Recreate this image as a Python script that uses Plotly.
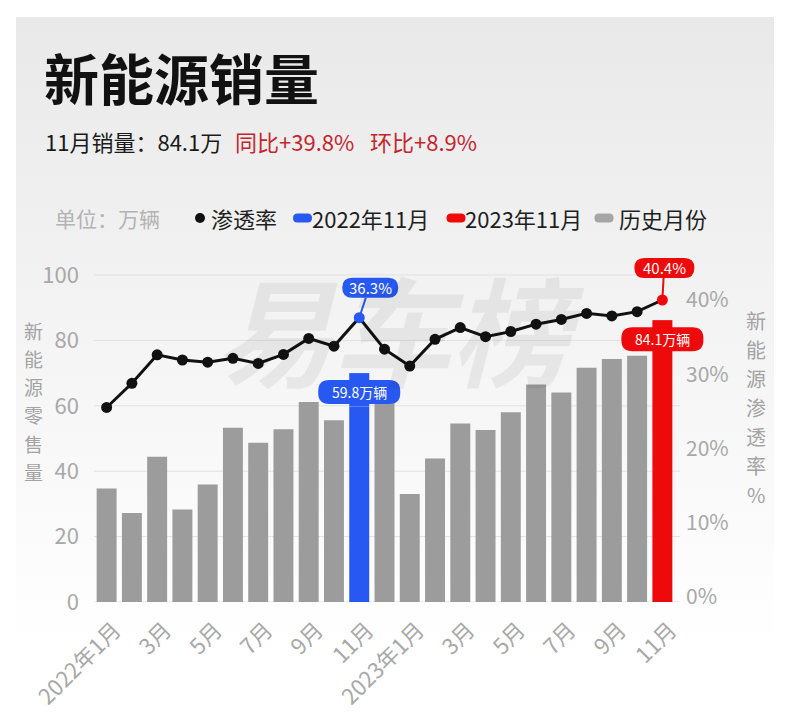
import plotly.graph_objects as go

# ---------------- data ----------------
months = ["2022年1月", "2022年2月", "2022年3月", "2022年4月", "2022年5月", "2022年6月",
          "2022年7月", "2022年8月", "2022年9月", "2022年10月", "2022年11月", "2022年12月",
          "2023年1月", "2023年2月", "2023年3月", "2023年4月", "2023年5月", "2023年6月",
          "2023年7月", "2023年8月", "2023年9月", "2023年10月", "2023年11月"]
sales = [34.7, 27.2, 44.4, 28.3, 35.9, 53.3, 48.7, 52.8, 61.2, 55.6, 59.8, 64.0,
         33.0, 43.9, 54.6, 52.6, 58.0, 66.5, 64.1, 71.6, 74.3, 75.3, 84.1]
penetration = [15.5, 21.1, 27.7, 26.5, 26.0, 26.9, 25.7, 27.8, 31.5, 29.7, 36.3, 29.0,
               25.1, 31.3, 34.0, 31.9, 33.1, 34.8, 35.9, 37.3, 36.7, 37.7, 40.4]
tick_vals = months[::2]
tick_text = ["2022年1月", "3月", "5月", "7月", "9月", "11月",
             "2023年1月", "3月", "5月", "7月", "9月", "11月"]
left_ticks = [0, 20, 40, 60, 80, 100]
right_ticks = [0, 10, 20, 30, 40]
right_tick_text = ["0%", "10%", "20%", "30%", "40%"]
highlight_idx = [10, 22]
highlight_names = ["2022年11月", "2023年11月"]
pin_tops = [70.0, 86.2]          # top of the highlighted "pin" bars
sales_labels = ["59.8万辆", "84.1万辆"]
pen_labels = ["36.3%", "40.4%"]

# ---------------- style ----------------
FONT = "Noto Sans CJK SC"
GRAY_BAR = "#9c9c9c"
BLUE = "#2858f2"
RED = "#ee0a0a"
HL_COLORS = [BLUE, RED]
TICK_GRAY = "#a8a8a8"

W, H = 800, 721
L, R, T, B = 94, 88, 245, 119
PW, PH = W - L - R, H - T - B


def px(X):
    return (X - L) / PW


def py(Y):
    return (H - B - Y) / PH


def rounded_path(cx, cy, w, h, r):
    x0, x1 = cx - w / 2, cx + w / 2
    y0, y1 = cy - h / 2, cy + h / 2
    return (f"M{x0 + r},{y0} L{x1 - r},{y0} Q{x1},{y0} {x1},{y0 + r} "
            f"L{x1},{y1 - r} Q{x1},{y1} {x1 - r},{y1} L{x0 + r},{y1} "
            f"Q{x0},{y1} {x0},{y1 - r} L{x0},{y0 + r} Q{x0},{y0} {x0 + r},{y0} Z")


bar_colors = [GRAY_BAR] * len(months)
dot_colors = ["#111111"] * len(months)
for i, c in zip(highlight_idx, HL_COLORS):
    bar_colors[i] = c
    dot_colors[i] = c

fig = go.Figure()
fig.add_trace(go.Bar(x=months, y=sales, marker=dict(color=bar_colors, line=dict(width=0)),
                     yaxis="y", showlegend=False, hoverinfo="x+y"))
fig.add_trace(go.Scatter(x=months, y=penetration, yaxis="y3", mode="lines+markers",
                         line=dict(color="#111111", width=3),
                         marker=dict(size=11, color=dot_colors),
                         showlegend=False))
# invisible carrier so that the printed right-hand % axis is drawn
fig.add_trace(go.Scatter(x=[months[0]] * len(right_ticks), y=right_ticks, yaxis="y2",
                         mode="markers", marker=dict(opacity=0), hoverinfo="skip",
                         showlegend=False))

shapes = []
annotations = []

# background card with vertical gradient
top, bottom = 17, 721
step = 8
y = top
while y < bottom:
    t = min(1.0, (y - top) / (640 - top))
    v = int(round(233 + (255 - 233) * t))
    shapes.append(dict(type="rect", xref="paper", yref="paper", layer="below",
                       x0=px(16), x1=px(774), y0=py(min(y + step, bottom)), y1=py(y),
                       fillcolor=f"rgb({v},{v},{v})", line=dict(width=0)))
    y += step

# horizontal grid lines at the left-axis ticks
for v in left_ticks:
    shapes.append(dict(type="line", xref="paper", yref="y", layer="below",
                       x0=0, x1=px(680), y0=v, y1=v, line=dict(color="#e1e1e1", width=1)))

# watermark
annotations.append(dict(xref="paper", yref="paper", x=px(400), y=py(326), text="<b>易车榜</b>",
                        showarrow=False, font=dict(family=FONT, size=118, color="rgba(0,0,0,0.06)",
                                                   style="italic"),
                        xanchor="center", yanchor="middle"))

# highlighted bars: stems, pills and labels
for j, i in enumerate(highlight_idx):
    c = HL_COLORS[j]
    shapes.append(dict(type="rect", xref="x", yref="y", xsizemode="pixel", xanchor=i,
                       x0=-10, x1=10, y0=sales[i], y1=pin_tops[j], fillcolor=c, line=dict(width=0)))
    shapes.append(dict(type="path", xref="x", yref="y", xsizemode="pixel", ysizemode="pixel",
                       xanchor=i, yanchor=pin_tops[j], path=rounded_path(0, -19, 82, 24, 11),
                       fillcolor=c, line=dict(width=0)))
    annotations.append(dict(x=i, y=pin_tops[j], xref="x", yref="y", yshift=-19, text=sales_labels[j],
                            showarrow=False, font=dict(family=FONT, size=14, color="white"),
                            xanchor="center", yanchor="middle"))

# penetration callouts
pen_offsets = [(11, 30, 56), (2, 32, 60)]
for j, i in enumerate(highlight_idx):
    c = HL_COLORS[j]
    dx, dy, w = pen_offsets[j]
    shapes.append(dict(type="line", xref="x", yref="y3", xsizemode="pixel", ysizemode="pixel",
                       xanchor=i, yanchor=penetration[i], x0=0, y0=0, x1=dx * 0.6, y1=dy - 10,
                       line=dict(color=c, width=2)))
    shapes.append(dict(type="path", xref="x", yref="y3", xsizemode="pixel", ysizemode="pixel",
                       xanchor=i, yanchor=penetration[i], path=rounded_path(dx, dy, w, 20, 10),
                       fillcolor=c, line=dict(width=0)))
    annotations.append(dict(x=i, y=penetration[i], xref="x", yref="y3", xshift=dx, yshift=dy,
                            text=pen_labels[j], showarrow=False,
                            font=dict(family=FONT, size=15, color="white"),
                            xanchor="center", yanchor="middle"))

# title & subtitle
annotations.append(dict(xref="paper", yref="paper", x=px(42), y=py(76), text="<b>新能源销量</b>",
                        showarrow=False, xanchor="left", yanchor="middle",
                        font=dict(family=FONT, size=55, color="#111111", weight=900)))
sub = [("11月销量：84.1万", 43, "#1a1a1a"), ("同比+39.8%", 233, "#c4262e"), ("环比+8.9%", 368, "#c4262e")]
for txt, x0, col in sub:
    annotations.append(dict(xref="paper", yref="paper", x=px(x0), y=py(141), text=txt,
                            showarrow=False, xanchor="left", yanchor="middle",
                            font=dict(family=FONT, size=22, color=col)))

# legend (hand-built)
LY = 218
annotations.append(dict(xref="paper", yref="paper", x=px(53), y=py(LY), text="单位：万辆",
                        showarrow=False, xanchor="left", yanchor="middle",
                        font=dict(family=FONT, size=21, color="#b3b3b3")))
shapes.append(dict(type="circle", xref="paper", yref="paper", xsizemode="pixel", ysizemode="pixel",
                   xanchor=px(200), yanchor=py(LY), x0=-5, x1=5, y0=-5, y1=5,
                   fillcolor="#111111", line=dict(width=0)))
legend_items = [("渗透率", None, 209), (highlight_names[0], BLUE, 310),
                (highlight_names[1], RED, 463), ("历史月份", "#a5a5a5", 617)]
pill_x = {BLUE: 302.5, RED: 456, "#a5a5a5": 604}
for txt, col, x0 in legend_items:
    if col is not None:
        shapes.append(dict(type="path", xref="paper", yref="paper", xsizemode="pixel",
                           ysizemode="pixel", xanchor=px(pill_x[col]), yanchor=py(LY),
                           path=rounded_path(0, 0, 19, 9, 4.5), fillcolor=col, line=dict(width=0)))
    annotations.append(dict(xref="paper", yref="paper", x=px(x0), y=py(LY), text=txt,
                            showarrow=False, xanchor="left", yanchor="middle",
                            font=dict(family=FONT, size=22, color="#1f1f1f")))

# vertical axis titles
for k, ch in enumerate("新能源零售量"):
    annotations.append(dict(xref="paper", yref="paper", x=px(33), y=py(330 + 28.3 * k), text=ch,
                            showarrow=False, xanchor="center", yanchor="middle",
                            font=dict(family=FONT, size=19, color="#a3a3a3")))
for k, ch in enumerate("新能源渗透率%"):
    annotations.append(dict(xref="paper", yref="paper", x=px(756), y=py(320 + 29 * k), text=ch,
                            showarrow=False, xanchor="center", yanchor="middle",
                            font=dict(family=FONT, size=20, color="#a3a3a3")))

# axis ranges (pixel scale kept identical to the reference layout)
y_hi = (H - B - T) / 3.27
r_lo = -0.714
r_hi = r_lo + (H - B - T) * 0.134832
p_lo = -29.56
p_hi = p_lo + (H - B - T) * 0.231651
x_hi = len(months) - 0.5 + 37 / 25.26

fig.update_layout(
    width=W, height=H,
    margin=dict(l=L, r=R, t=T, b=B, autoexpand=False),
    paper_bgcolor="white", plot_bgcolor="rgba(0,0,0,0)",
    bargap=0.21, showlegend=False,
    font=dict(family=FONT),
    xaxis=dict(type="category", categoryorder="array", categoryarray=months,
               range=[-0.5, x_hi],
               tickvals=tick_vals, ticktext=tick_text, tickangle=-45,
               tickfont=dict(family=FONT, size=22, color=TICK_GRAY),
               ticklabelstandoff=10, ticklabelshift=8,
               showgrid=False, showline=False, zeroline=False, ticks=""),
    yaxis=dict(range=[0, y_hi], tickvals=left_ticks, showgrid=False,
               zeroline=False, showline=False, ticks="",
               tickfont=dict(family=FONT, size=22, color=TICK_GRAY), ticklabelstandoff=14),
    yaxis2=dict(overlaying="y", side="right", anchor="free", position=px(675),
                range=[r_lo, r_hi], tickvals=right_ticks, ticktext=right_tick_text,
                showgrid=False, zeroline=False, showline=False, ticks="",
                tickfont=dict(family=FONT, size=21, color=TICK_GRAY), ticklabelstandoff=10),
    yaxis3=dict(overlaying="y", range=[p_lo, p_hi], visible=False),
    shapes=shapes, annotations=annotations,
)

fig.write_html("out.html")
